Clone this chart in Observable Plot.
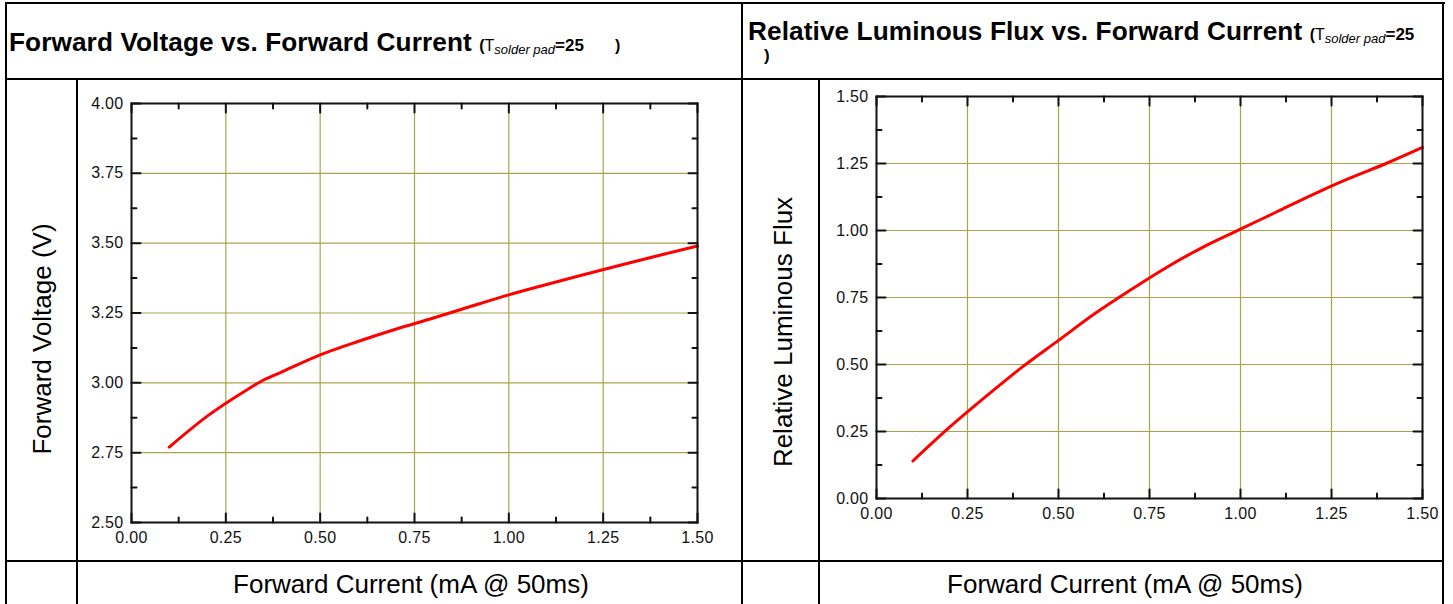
<!DOCTYPE html>
<html><head><meta charset="utf-8">
<script src="https://cdn.jsdelivr.net/npm/d3@7"></script>
<script src="https://cdn.jsdelivr.net/npm/@observablehq/plot@0.6"></script>
<style>
body{margin:0;background:#fff;font-family:"Liberation Sans",Arial,sans-serif;}
#wrap{position:relative;width:1453px;height:604px;overflow:hidden;background:#fff;}
.ln{position:absolute;background:#000;}
.t{position:absolute;white-space:pre;color:#000;line-height:1;}
.plot{position:absolute;}
</style></head><body><div id="wrap"></div>
<script>
// ---- data ----
const current = [0.1, 0.2, 0.3, 0.35, 0.4, 0.5, 0.6, 0.7, 0.8, 0.9, 1.0, 1.1, 1.2, 1.3, 1.4, 1.5];
const voltage = [2.77, 2.88, 2.97, 3.01, 3.04, 3.10, 3.148, 3.192, 3.232, 3.274, 3.315, 3.352, 3.388, 3.423, 3.457, 3.49];
const fluxCurrent = [0.1, 0.2, 0.3, 0.4, 0.5, 0.6, 0.7, 0.8, 0.9, 1.0, 1.1, 1.2, 1.3, 1.4, 1.5];
const flux = [0.14, 0.265, 0.38, 0.49, 0.59, 0.69, 0.78, 0.865, 0.94, 1.005, 1.07, 1.135, 1.195, 1.25, 1.31];
const xMajor = [0, 0.25, 0.5, 0.75, 1.0, 1.25, 1.5];
const xMinor = [0.125, 0.375, 0.625, 0.875, 1.125, 1.375];
const vMajor = [2.5, 2.75, 3.0, 3.25, 3.5, 3.75, 4.0];
const vMinor = [2.625, 2.875, 3.125, 3.375, 3.625, 3.875];
const fMajor = [0, 0.25, 0.5, 0.75, 1.0, 1.25, 1.5];
const fMinor = [0.125, 0.375, 0.625, 0.875, 1.125, 1.375];
const titles = ["Forward Voltage vs. Forward Current", "Relative Luminous Flux vs. Forward Current"];
const yLabels = ["Forward Voltage (V)", "Relative Luminous Flux"];
const xLabel = "Forward Current (mA @ 50ms)";

const wrap = document.getElementById("wrap");
function line(x, y, w, h) {
  const d = document.createElement("div");
  d.className = "ln";
  Object.assign(d.style, {left: x + "px", top: y + "px", width: w + "px", height: h + "px"});
  wrap.appendChild(d);
}
function text(html, css) {
  const d = document.createElement("div");
  d.className = "t";
  d.innerHTML = html;
  Object.assign(d.style, css);
  wrap.appendChild(d);
  return d;
}
// table borders
line(5, 2, 1440, 2);
line(5, 2, 2, 620);
line(1442, 2, 2, 620);
line(5, 78, 1439, 2);
line(5, 560, 1439, 2);
line(741, 2, 2, 620);
line(76, 78, 2, 620);
line(818, 78, 2, 620);

// titles
const cond = '<span style="font-size:16px;font-weight:bold">(</span><span style="font-size:16px">T</span><span style="font-size:13px;font-style:italic;position:relative;top:3px">solder pad</span><span style="font-size:17px;font-weight:bold">=25</span>';
const tStyle = 'font-size:26.2px;font-weight:bold;letter-spacing:0.1px';
text('<span style="' + tStyle + '">' + titles[0] + ' </span>' + cond +
     '<span style="font-size:16px;font-weight:bold">       )</span>', {left: "9px", top: "29px"});
text('<span style="' + tStyle + '">' + titles[1] + ' </span>' + cond, {left: "748px", top: "18px"});
text('<span style="font-size:17px;font-weight:bold">)</span>', {left: "764px", top: "47px"});

// axis titles
function yTitle(s, cx, cy) {
  const d = text(s, {fontSize: "26px", left: cx + "px", top: cy + "px"});
  d.style.transform = "translate(-50%,-50%) rotate(-90deg)";
}
yTitle(yLabels[0], 42, 339);
yTitle(yLabels[1], 783, 332);
function xTitle(s, cx, cy) {
  const d = text(s, {fontSize: "26px", left: cx + "px", top: cy + "px"});
  d.style.transform = "translate(-50%,-50%)";
}
xTitle(xLabel, 411, 584);
xTitle(xLabel, 1125, 584);

// plots
const grid = "#a8a44c";
const tickShape = {draw(ctx, l) { ctx.moveTo(0, 0); ctx.lineTo(0, -l); }};
function ticks(xs, ys, len) {
  const o = {length: len, anchor: "start", shape: tickShape, stroke: "#111", strokeWidth: 2};
  return [
    Plot.vector(ys, {...o, y: d => d, frameAnchor: "left", rotate: 90}),
    Plot.vector(ys, {...o, y: d => d, frameAnchor: "right", rotate: -90}),
    Plot.vector(xs, {...o, x: d => d, frameAnchor: "bottom", rotate: 0}),
    Plot.vector(xs, {...o, x: d => d, frameAnchor: "top", rotate: 180})
  ];
}
function makePlot({w, h, ml, mr, mt, mb, yDomain, yMaj, yMin, xs, ys}) {
  return Plot.plot({
    width: w, height: h,
    marginLeft: ml, marginRight: mr, marginTop: mt, marginBottom: mb,
    style: {fontFamily: '"Liberation Sans", Arial, sans-serif', fontSize: "16px", color: "#111", letterSpacing: "0.3px", background: "transparent"},
    x: {domain: [0, 1.5]},
    y: {domain: yDomain},
    marks: [
      Plot.gridX(xMajor.slice(1, -1), {stroke: grid, strokeOpacity: 1, strokeWidth: 1.2}),
      Plot.gridY(yMaj.slice(1, -1), {stroke: grid, strokeOpacity: 1, strokeWidth: 1.2}),
      Plot.line(xs.map((x, i) => ({x, y: ys[i]})), {x: "x", y: "y", stroke: "#ff0000", strokeWidth: 3, curve: "monotone-x"}),
      ...ticks(xMajor, yMaj, 9),
      ...ticks(xMinor, yMin, 5),
      Plot.frame({stroke: "#111", strokeWidth: 2}),
      Plot.axisY(yMaj, {tickSize: 0, tickPadding: 8, tickFormat: d => d.toFixed(2), label: null}),
      Plot.axisX(xMajor, {tickSize: 0, tickPadding: 9, tickFormat: d => d.toFixed(2), label: null})
    ]
  });
}
const p1 = makePlot({w: 663, h: 478, ml: 52, mr: 45, mt: 22, mb: 37, yDomain: [2.5, 4], yMaj: vMajor, yMin: vMinor, xs: current, ys: voltage});
p1.classList.add("plot");
Object.assign(p1.style, {left: "79px", top: "81px"});
wrap.appendChild(p1);
const p2 = makePlot({w: 620, h: 478, ml: 55, mr: 19, mt: 15, mb: 61, yDomain: [0, 1.5], yMaj: fMajor, yMin: fMinor, xs: fluxCurrent, ys: flux});
p2.classList.add("plot");
Object.assign(p2.style, {left: "821px", top: "81px"});
wrap.appendChild(p2);
</script></body></html>
